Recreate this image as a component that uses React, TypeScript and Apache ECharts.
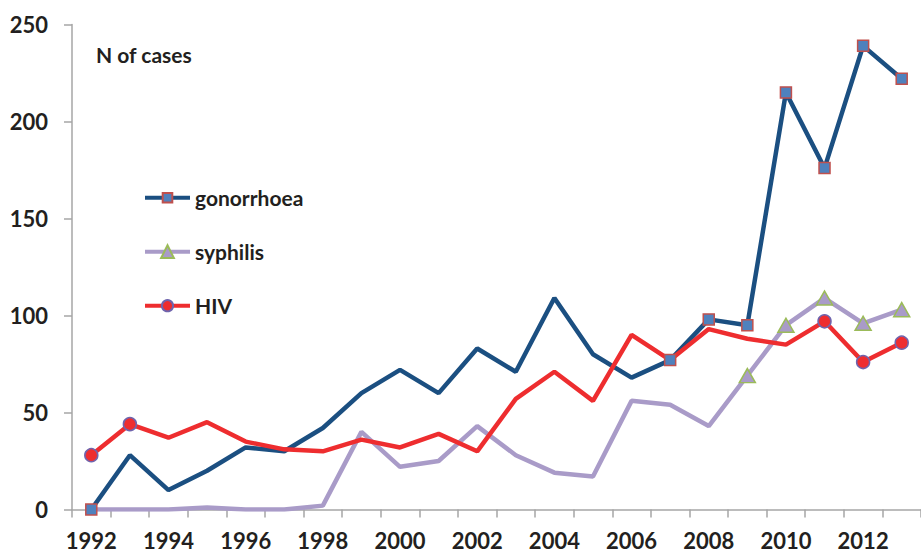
import React, { useEffect, useRef } from "react";
import * as echarts from "echarts";

const years = ["1992","1993","1994","1995","1996","1997","1998","1999","2000","2001","2002","2003","2004","2005","2006","2007","2008","2009","2010","2011","2012","2013"];
const gonorrhoea = [0, 28, 10, 20, 32, 30, 42, 60, 72, 60, 83, 71, 109, 80, 68, 77, 98, 95, 215, 176, 239, 222];
const syphilis = [0, 0, 0, 1, 0, 0, 2, 40, 22, 25, 43, 28, 19, 17, 56, 54, 43, 69, 95, 109, 96, 103];
const hiv = [28, 44, 37, 45, 35, 31, 30, 36, 32, 39, 30, 57, 71, 56, 90, 77, 93, 88, 85, 97, 76, 86];
const gonorrhoeaMarked = ["1992", "2007", "2008", "2009", "2010", "2011", "2012", "2013"];
const syphilisMarked = ["2009", "2010", "2011", "2012", "2013"];
const hivMarked = ["1992", "1993", "2011", "2012", "2013"];
const yTicks = { min: 0, max: 250, interval: 50 };

const FONT = "Lato";
const TEXT = "#231f20";
const AXIS = "#a6a6a6";

function withMarkers(values: number[], marked: string[]) {
  return values.map((v, i) => (marked.includes(years[i]) ? { value: v } : { value: v, symbol: "none" }));
}

export default function App() {
  const ref = useRef<HTMLDivElement>(null);
  useEffect(() => {
    if (!ref.current) return;
    const chart = echarts.init(ref.current, null, { renderer: "svg" });
    const legendBase = {
      orient: "horizontal",
      left: 143,
      padding: 0,
      itemWidth: 45,
      itemHeight: 13,
      lineStyle: { width: 4 },
      textStyle: { fontFamily: FONT, fontWeight: "bold", fontSize: 21, color: TEXT, lineHeight: 22 },
    };
    chart.setOption({
      animation: false,
      backgroundColor: "#ffffff",
      grid: { left: 72, top: 24.5, width: 854, height: 485 },
      legend: [
        { ...legendBase, top: 186.7, data: ["gonorrhoea"], itemHeight: 12 },
        { ...legendBase, top: 240.7, data: ["syphilis"], itemHeight: 16 },
        { ...legendBase, top: 294.7, data: ["HIV"], itemHeight: 14 },
      ],
      graphic: [
        {
          type: "text",
          left: 96,
          top: 44,
          style: { text: "N of cases", fontFamily: FONT, fontWeight: "bold", fontSize: 21, fill: TEXT },
        },
      ],
      xAxis: {
        type: "category",
        data: years,
        boundaryGap: true,
        axisLine: { show: true, lineStyle: { color: AXIS, width: 1.5 } },
        axisTick: { show: true, interval: 0, length: 8, lineStyle: { color: AXIS, width: 1.5 } },
        axisLabel: { interval: 1, margin: 20, lineHeight: 22, fontFamily: FONT, fontWeight: "bold", fontSize: 22, color: TEXT },
        splitLine: { show: false },
      },
      yAxis: {
        type: "value",
        min: yTicks.min,
        max: yTicks.max,
        interval: yTicks.interval,
        axisLine: { show: true, lineStyle: { color: AXIS, width: 1.5 } },
        axisTick: { show: true, length: 8, lineStyle: { color: AXIS, width: 1.5 } },
        axisLabel: { margin: 24, fontFamily: FONT, fontWeight: "bold", fontSize: 22, color: TEXT },
        splitLine: { show: false },
      },
      series: [
        {
          name: "gonorrhoea",
          type: "line",
          data: withMarkers(gonorrhoea, gonorrhoeaMarked),
          symbol: "rect",
          symbolSize: 11,
          showSymbol: true,
          lineStyle: { color: "#1b4f81", width: 4.5 },
          itemStyle: { color: "#4f81bd", borderColor: "#c0504d", borderWidth: 1.5 },
        },
        {
          name: "syphilis",
          type: "line",
          data: withMarkers(syphilis, syphilisMarked),
          symbol: "triangle",
          symbolSize: [16, 14],
          showSymbol: true,
          lineStyle: { color: "#a99bc8", width: 4.5 },
          itemStyle: { color: "#a99bc8", borderColor: "#9bbb59", borderWidth: 1.5 },
        },
        {
          name: "HIV",
          type: "line",
          data: withMarkers(hiv, hivMarked),
          symbol: "circle",
          symbolSize: 13,
          showSymbol: true,
          lineStyle: { color: "#ee2d2f", width: 4.5 },
          itemStyle: { color: "#ee2d2f", borderColor: "#6f64ad", borderWidth: 1.5 },
        },
      ],
    });
    return () => chart.dispose();
  }, []);
  return <div ref={ref} style={{ position: "fixed", left: 0, top: 0, width: 921, height: 554 }} />;
}
